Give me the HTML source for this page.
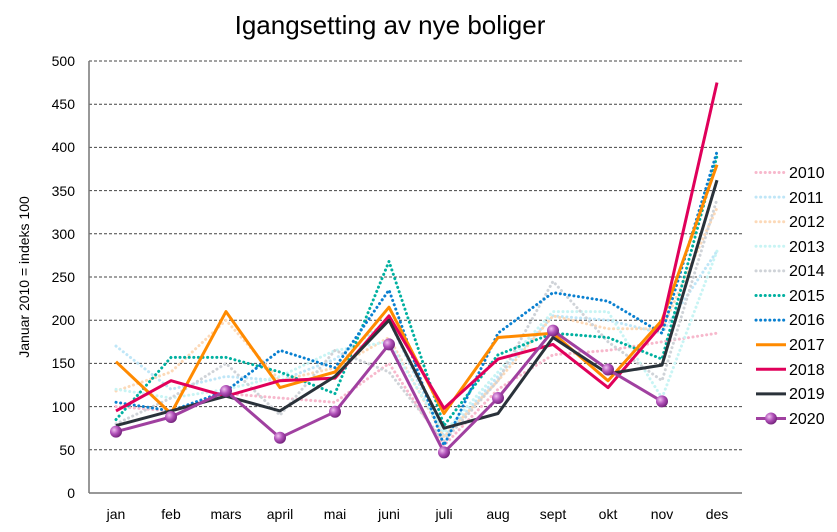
<!DOCTYPE html>
<html><head><meta charset="utf-8"><style>
body{margin:0;background:#fff;}
svg{display:block;font-family:"Liberation Sans",Arial,sans-serif;}
</style></head><body>
<svg id="c" width="837" height="532" viewBox="0 0 837 532">
<text x="390" y="34" font-size="26" text-anchor="middle" fill="#000">Igangsetting av nye boliger</text>
<g stroke="#444" stroke-width="1" stroke-dasharray="3,2">
<line x1="89" x2="742" y1="61" y2="61"/><line x1="89" x2="742" y1="104.2" y2="104.2"/>
<line x1="89" x2="742" y1="147.4" y2="147.4"/><line x1="89" x2="742" y1="190.6" y2="190.6"/>
<line x1="89" x2="742" y1="233.8" y2="233.8"/><line x1="89" x2="742" y1="277" y2="277"/>
<line x1="89" x2="742" y1="320.2" y2="320.2"/><line x1="89" x2="742" y1="363.4" y2="363.4"/>
<line x1="89" x2="742" y1="406.6" y2="406.6"/><line x1="89" x2="742" y1="449.8" y2="449.8"/>
</g>
<line x1="89" x2="89" y1="61" y2="493" stroke="#777" stroke-width="1.5"/>
<line x1="89" x2="742" y1="493" y2="493" stroke="#777" stroke-width="1.5"/>
<g font-size="14" text-anchor="end" fill="#000">
<text x="75" y="66">500</text><text x="75" y="109">450</text><text x="75" y="152">400</text>
<text x="75" y="196">350</text><text x="75" y="239">300</text><text x="75" y="282">250</text>
<text x="75" y="325">200</text><text x="75" y="368">150</text><text x="75" y="412">100</text>
<text x="75" y="455">50</text><text x="75" y="498">0</text>
</g>
<g font-size="14" text-anchor="middle" fill="#000">
<text x="116" y="519">jan</text><text x="171" y="519">feb</text><text x="226" y="519">mars</text>
<text x="280" y="519">april</text><text x="335" y="519">mai</text><text x="389" y="519">juni</text>
<text x="444" y="519">juli</text><text x="498" y="519">aug</text><text x="553" y="519">sept</text>
<text x="608" y="519">okt</text><text x="662" y="519">nov</text><text x="717" y="519">des</text>
</g>
<text transform="translate(29,277) rotate(-90)" font-size="14" text-anchor="middle" fill="#000">Januar 2010 = indeks 100</text>
<g id="series"></g>
<g font-size="16" fill="#000">
<text x="789" y="178">2010</text><text x="789" y="203">2011</text>
<text x="789" y="227">2012</text><text x="789" y="252">2013</text>
<text x="789" y="276">2014</text><text x="789" y="301">2015</text>
<text x="789" y="325">2016</text><text x="789" y="350">2017</text>
<text x="789" y="375">2018</text><text x="789" y="399">2019</text>
<text x="789" y="424">2020</text>
</g>
<defs><radialGradient id="g" cx="35%" cy="35%" r="70%"><stop offset="0" stop-color="#f0c0f0"/><stop offset="0.5" stop-color="#b050b8"/><stop offset="1" stop-color="#702078"/></radialGradient></defs>
</svg>
<script>
var X=[116,171,226,280,335,389,444,498,553,608,662,717];
function Y(v){return 493-v*0.864;}
var S=[
["#f7b8cc",[100,95,115,110,105,150,55,120,160,165,175,185],1],
["#bfe6f7",[170,120,135,130,155,200,65,135,205,200,185,280],1],
["#fcd9b8",[118,140,200,130,145,180,65,130,205,190,190,330],1],
["#c8f4f4",[120,110,120,135,165,175,70,140,210,210,110,280],1],
["#cfd3d8",[80,110,150,90,165,140,60,130,245,175,130,340],1],
["#00b0a0",[85,157,157,140,115,268,78,160,185,180,155,390],1],
["#0a80d0",[105,95,118,165,145,235,55,185,232,222,185,395],1],
["#ff8a00",[152,92,210,122,140,215,92,180,185,130,200,380],0],
["#e0005a",[95,130,112,130,133,205,98,155,172,122,195,475],0],
["#2a323a",[78,95,112,95,135,200,75,92,180,138,148,362],0],
["#a040a0",[71,88,118,64,94,172,47,110,188,143,106],0]
];
var ns="http://www.w3.org/2000/svg",g=document.getElementById("series"),svg=document.getElementById("c");
function el(t,a,p){var e=document.createElementNS(ns,t);for(var k in a)e.setAttribute(k,a[k]);(p||g).appendChild(e);return e;}
S.forEach(function(s,i){
 var pts=s[1].map(function(v,j){return X[j]+","+Y(v).toFixed(1);}).join(" ");
 var a={points:pts,fill:"none",stroke:s[0],"stroke-width":3,"stroke-linejoin":"round"};
 if(s[2]){a["stroke-dasharray"]="0.1 4.5";a["stroke-linecap"]="round";}
 el("polyline",a);
 var ly=172.5+i*24.6;
 var la={x1:756,x2:786,y1:ly,y2:ly,stroke:s[0],"stroke-width":3};
 if(s[2]){la["stroke-dasharray"]="0.1 4.5";la["stroke-linecap"]="round";}
 el("line",la,svg);
 if(i==10){
  s[1].forEach(function(v,j){el("circle",{cx:X[j],cy:Y(v),r:6,fill:"url(#g)"});});
  el("circle",{cx:771,cy:ly,r:6,fill:"url(#g)"},svg);
 }
});
</script>
</body></html>
